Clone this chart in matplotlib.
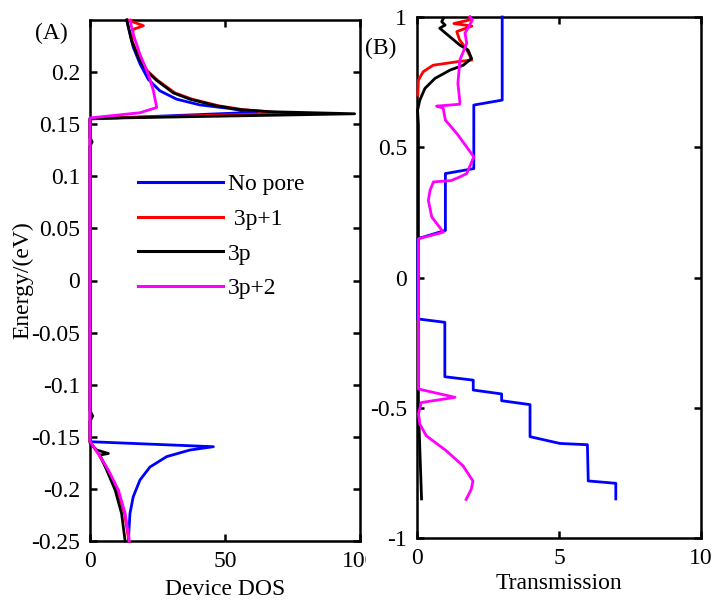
import matplotlib
matplotlib.use("Agg")
import matplotlib.pyplot as plt
from matplotlib.transforms import Bbox

plt.rcParams['font.family'] = ['Liberation Serif', 'DejaVu Serif']
plt.rcParams['axes.unicode_minus'] = False

# ---- panel A : device DOS vs energy ----
# no pore
dos_np_E = [0.25, 0.224, 0.208, 0.193, 0.182, 0.174, 0.1685, 0.165, 0.1625, 0.1615, 0.155,
            -0.1547, -0.1595, -0.1627, -0.169, -0.179, -0.1915, -0.2076, -0.2236, -0.25]
dos_np = [13.6, 16.0, 18.5, 21.6, 25.9, 32.1, 40.7, 51.9, 58.0, 62.0, 0.0,
          0.0, 45.7, 37.0, 28.4, 22.2, 18.5, 16.0, 14.8, 14.2]
# 3p+1
dos_p1_E = [0.25, 0.2445, 0.241, 0.230, 0.214, 0.201, 0.192, 0.180, 0.174, 0.1676,
            0.164, 0.1615, 0.1605, 0.1555,
            -0.1547, -0.166, -0.182, -0.201, -0.2236, -0.25]
dos_p1 = [14.0, 19.8, 16.0, 15.6, 18.1, 21.3, 25.1, 31.5, 37.8, 47.8,
          56.6, 68.0, 74.0, 0.0,
          0.0, 3.0, 6.6, 10.2, 12.8, 14.4]
# 3p
dos_p0_E = [0.25, 0.230, 0.214, 0.201, 0.192, 0.180, 0.174, 0.1676, 0.164, 0.162, 0.160, 0.1555,
            0.137, 0.133, 0.129, -0.125, -0.13, -0.135, -0.156,
            -0.1627, -0.166, -0.1675, -0.182, -0.201, -0.2236, -0.25]
dos_p0 = [13.6, 15.4, 17.9, 21.0, 24.7, 30.9, 37.0, 46.9, 55.6, 66.7, 98.0, 0.0,
          0.0, 0.8, 0.0, 0.0, 1.0, 0.0, 0.0,
          2.5, 6.8, 3.7, 6.2, 9.3, 11.7, 13.0]
# 3p+2
dos_p2_E = [0.25, 0.2365, 0.217, 0.198, 0.182, 0.166, 0.161, 0.156,
            -0.1547, -0.166, -0.182, -0.201, -0.2236, -0.25]
dos_p2 = [14.8, 16.0, 18.5, 21.6, 23.5, 24.7, 18.5, 0.0,
          0.0, 3.1, 6.8, 10.5, 13.0, 14.6]

# ---- panel B : transmission vs energy ----
tr_np_E = [-0.85, -0.79, -0.781, -0.642, -0.637, -0.611, -0.488, -0.473, -0.447,
           -0.432, -0.394, -0.381, -0.172, -0.159, 0.149, 0.181, 0.399, 0.418,
           0.662, 0.681, 1.0]
tr_np = [7.0, 7.0, 6.03, 6.0, 5.03, 3.98, 3.98, 2.98, 2.98,
         1.98, 1.98, 0.98, 0.98, 0.03, 0.03, 1.0, 1.0, 2.0,
         2.0, 3.0, 3.0]

tr_p1_E = [0.70, 0.758, 0.79, 0.815, 0.828, 0.835, 0.875, 0.912, 0.944,
           0.965, 0.975, 0.99, 1.0]
tr_p1 = [0.03, 0.05, 0.22, 0.57, 1.4, 1.93, 1.75, 1.5, 1.4,
         1.93, 1.3, 1.9, 1.85]

tr_p0_E = [-0.85, -0.5, -0.29, 0.585, 0.642, 0.681, 0.726, 0.764, 0.796, 0.815,
           0.841, 0.873, 0.892, 0.924, 0.957, 0.969, 0.982, 0.995]
tr_p0 = [0.16, 0.05, 0.05, 0.05, 0.02, 0.1, 0.28, 0.63, 1.16, 1.63,
         1.92, 1.8, 1.51, 1.16, 0.8, 0.99, 0.87, 0.93]

tr_p2_E = [-0.852, -0.813, -0.781, -0.723, -0.665, -0.608, -0.563, -0.525, -0.48,
           -0.46, -0.428, -0.133, 0.149, 0.174, 0.232, 0.296, 0.335, 0.367,
           0.372, 0.386, 0.399, 0.463, 0.501, 0.553, 0.604, 0.65, 0.658,
           0.665, 0.674, 0.745, 0.835, 0.899, 0.938, 0.988, 1.0]
tr_p2 = [1.73, 1.91, 1.97, 1.62, 1.03, 0.33, 0.1, 0.05, 0.15,
         1.34, 0.05, 0.05, 0.05, 0.93, 0.52, 0.4, 0.46, 0.58,
         1.2, 1.51, 1.75, 2.0, 1.75, 1.4, 1.0, 0.92, 0.69,
         1.5, 1.51, 1.44, 1.51, 1.75, 1.69, 1.95, 1.87]

labels = ['No pore', ' 3p+1', '3p', '3p+2']
colors = ['#0000ff', '#ff0000', '#000000', '#ff00ff']

fig = plt.figure(figsize=(7.15, 6.02), dpi=100)
axA = fig.add_axes([90/715, 61/602, 270/715, 521/602])
axB = fig.add_axes([417/715, 64/602, 284/715, 521/602])

lw = 2.0
for x, y, c, lab, z in [(dos_np, dos_np_E, colors[0], labels[0], 3),
                        (dos_p1, dos_p1_E, colors[1], labels[1], 3.1),
                        (dos_p0, dos_p0_E, colors[2], labels[2], 3.2),
                        (dos_p2, dos_p2_E, colors[3], labels[3], 3.3)]:
    axA.plot(x, y, color=c, lw=lw, label=lab, zorder=z, clip_on=False)

for x, y, c, z in [(tr_np, tr_np_E, colors[0], 3),
                   (tr_p1, tr_p1_E, colors[1], 3.1),
                   (tr_p0, tr_p0_E, colors[2], 3.2),
                   (tr_p2, tr_p2_E, colors[3], 3.3)]:
    axB.plot(x, y, color=c, lw=lw, zorder=z, clip_on=False)

fs = 17
for ax in (axA, axB):
    for s in ax.spines.values():
        s.set_linewidth(1.8)
    ax.tick_params(direction='in', length=5, width=1.8, labelsize=fs,
                   top=True, right=True, pad=7)

axA.set_xlim(0, 100)
axA.set_ylim(-0.25, 0.25)
axA.set_xticks([0, 50, 100])
axA.set_xticklabels(['0', '50', '100'])
yt = [0.2, 0.15, 0.1, 0.05, 0, -0.05, -0.1, -0.15, -0.2, -0.25]
axA.set_yticks(yt)
axA.set_yticklabels(['0.2', '0.15', '0.1', '0.05', '0', '-0.05', '-0.1', '-0.15', '-0.2', '-0.25'])
axA.set_xlabel('Device DOS', fontsize=fs, labelpad=5)
axA.set_ylabel('Energy/(eV)', fontsize=fs)
axA.yaxis.set_label_coords(-0.21, 0.5)

# last DOS tick label is cut off in the original
clip = Bbox([[0, 0], [366, 602]])
for t in axA.get_xticklabels():
    t.set_clip_box(clip)
    t.set_clip_on(True)

axB.set_xlim(0, 10)
axB.set_ylim(-1, 1)
axB.set_xticks([0, 5, 10])
axB.set_yticks([1, 0.5, 0, -0.5, -1])
axB.set_yticklabels(['1', '0.5', '0', '-0.5', '-1'])
axB.set_xlabel('Transmission', fontsize=fs, labelpad=3)

fig.text(35/715, 1 - 33/602, '(A)', fontsize=fs, va='center', ha='left')
fig.text(365/715, 1 - 48/602, '(B)', fontsize=fs, va='center', ha='left')

leg = axA.legend(loc='upper left', bbox_to_anchor=(0.178, 0.705), frameon=False,
                 fontsize=fs, handlelength=3.6, handletextpad=0.2,
                 borderpad=0, borderaxespad=0, labelspacing=0.56)
for h in leg.get_lines():
    h.set_linewidth(2.2)

fig.savefig('out.png', dpi=100)
